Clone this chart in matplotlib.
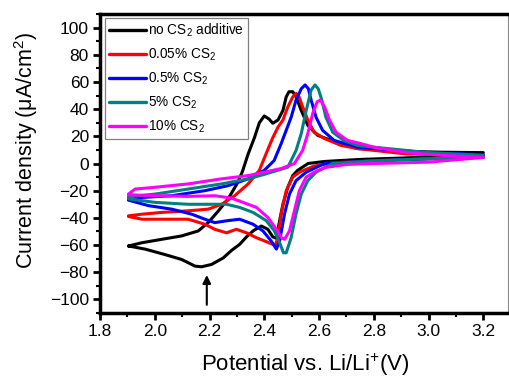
import matplotlib
matplotlib.use("Agg")
import matplotlib.pyplot as plt
from matplotlib.ticker import MultipleLocator, FormatStrFormatter

plt.rcParams['font.family'] = ['Liberation Sans', 'DejaVu Sans']
plt.rcParams['mathtext.fontset'] = 'custom'
plt.rcParams['mathtext.rm'] = 'Liberation Sans'
plt.rcParams['mathtext.it'] = 'Liberation Sans:italic'

# Cyclic voltammograms: anodic sweep (up) then cathodic sweep (dn), potential in V, current in uA/cm2
labels = ["no CS$_2$ additive", "0.05% CS$_2$", "0.5% CS$_2$", "5% CS$_2$", "10% CS$_2$"]
colors = ["#000000", "#ff0000", "#0000ff", "#008080", "#ff00ff"]

black_up_v = [1.904, 1.953, 2.025, 2.098, 2.159, 2.195, 2.232, 2.268, 2.30, 2.32, 2.341, 2.364, 2.382, 2.40, 2.418, 2.431, 2.45, 2.468, 2.48, 2.49, 2.504, 2.516, 2.535, 2.559, 2.595, 2.644, 2.74, 2.90, 3.05, 3.20]
black_up_i = [-60.7, -58.3, -55.8, -53.3, -49.6, -43.5, -35, -26, -15, -6, 7, 19, 30, 35, 32.6, 29.6, 32, 39, 49, 52.8, 52.8, 49, 39, 28, 20.7, 17, 11, 9, 8.3, 8]
black_dn_v = [3.20, 3.10, 2.90, 2.75, 2.62, 2.56, 2.522, 2.504, 2.486, 2.468, 2.456, 2.444, 2.431, 2.413, 2.389, 2.359, 2.335, 2.31, 2.28, 2.25, 2.207, 2.171, 2.147, 2.098, 2.037, 1.965, 1.904]
black_dn_i = [8, 5.5, 4, 3, 1.5, 0, -5, -8.9, -17.5, -30, -42, -55, -54, -48.4, -46, -49.6, -54, -59.5, -64, -69.5, -74.3, -76, -75.5, -70.6, -67, -63, -60.7]

red_up_v = [1.904, 1.953, 2.025, 2.122, 2.195, 2.244, 2.292, 2.341, 2.382, 2.407, 2.431, 2.45, 2.468, 2.486, 2.504, 2.516, 2.527, 2.54, 2.559, 2.582, 2.618, 2.68, 2.74, 2.92, 3.05, 3.20]
red_up_i = [-38.5, -37.3, -36, -34.8, -33.6, -30, -23.7, -15, -5, 7.4, 19, 26.7, 32, 41.7, 49, 51.6, 49, 41.7, 32, 23, 18.5, 13.3, 11, 7, 6.5, 6]
red_dn_v = [3.20, 3.00, 2.80, 2.65, 2.58, 2.528, 2.504, 2.48, 2.462, 2.45, 2.44, 2.425, 2.401, 2.371, 2.335, 2.298, 2.262, 2.219, 2.183, 2.122, 2.037, 1.953, 1.904]
red_dn_i = [6, 3.5, 2, 0.5, -2, -6.4, -10, -20, -37, -54.6, -60, -59, -57, -54.6, -51, -48.4, -51, -48.4, -44.7, -41, -41, -41, -39]

blue_up_v = [1.904, 1.953, 2.062, 2.183, 2.268, 2.341, 2.40, 2.436, 2.462, 2.48, 2.498, 2.516, 2.535, 2.549, 2.561, 2.571, 2.589, 2.613, 2.655, 2.74, 2.80, 3.00, 3.20]
blue_up_i = [-26, -25, -23.7, -20, -16.3, -11.3, -5, 2.2, 14.8, 24.4, 34, 46.7, 55, 57.8, 55, 46.7, 34, 24.4, 17, 12, 11, 8, 6.5]
blue_dn_v = [3.20, 3.00, 2.80, 2.62, 2.553, 2.516, 2.492, 2.474, 2.456, 2.444, 2.425, 2.395, 2.359, 2.31, 2.268, 2.219, 2.183, 2.135, 2.062, 1.977, 1.904]
blue_dn_i = [4.5, 3.5, 2, 0, -6.4, -12.6, -22.5, -37, -57, -63, -57, -49.6, -44.7, -41, -42, -43.5, -41, -37.3, -33.6, -31, -27]

teal_up_v = [1.904, 2.001, 2.122, 2.244, 2.341, 2.40, 2.486, 2.516, 2.535, 2.553, 2.571, 2.585, 2.597, 2.61, 2.625, 2.65, 2.69, 2.74, 2.80, 3.00, 3.20]
teal_up_i = [-24.5, -22.5, -18.8, -15, -11.3, -8, -2.7, 9.6, 22, 39, 54, 57.8, 55, 46.7, 34, 23, 17, 13.3, 12, 8, 6]
teal_dn_v = [3.20, 3.00, 2.80, 2.65, 2.589, 2.559, 2.535, 2.516, 2.498, 2.48, 2.47, 2.456, 2.437, 2.407, 2.359, 2.31, 2.262, 2.232, 2.122, 2.001, 1.904]
teal_dn_i = [4.5, 3.5, 2, 0, -6.4, -12.6, -22.5, -37, -54.6, -65.7, -65.7, -58.3, -49.6, -42, -36, -32.3, -30, -30, -30, -28.6, -26]

mag_up_v = [1.904, 1.928, 2.001, 2.122, 2.244, 2.341, 2.462, 2.51, 2.54, 2.559, 2.577, 2.593, 2.605, 2.62, 2.638, 2.662, 2.704, 2.753, 2.80, 2.92, 3.05, 3.20]
mag_up_i = [-22.5, -18.8, -17.5, -15, -11.3, -8.9, -3.7, 0, 9.6, 22, 37, 45.4, 46.7, 41.7, 32, 23, 17, 14.6, 12, 8, 6, 4.5]
mag_dn_v = [3.20, 3.00, 2.80, 2.70, 2.62, 2.583, 2.553, 2.528, 2.51, 2.492, 2.474, 2.462, 2.444, 2.413, 2.371, 2.322, 2.28, 2.219, 2.122, 2.001, 1.904]
mag_dn_i = [4.5, 1, 0, -0.7, -3, -6.4, -10, -20, -34.8, -49.6, -55.8, -54.6, -48.4, -39.7, -32.3, -28.6, -25.5, -23.7, -24.2, -23.7, -23]

curves = [
    (black_up_v + black_dn_v, black_up_i + black_dn_i),
    (red_up_v + red_dn_v, red_up_i + red_dn_i),
    (blue_up_v + blue_dn_v, blue_up_i + blue_dn_i),
    (teal_up_v + teal_dn_v, teal_up_i + teal_dn_i),
    (mag_up_v + mag_dn_v, mag_up_i + mag_dn_i),
]

fig = plt.figure(figsize=(5.09, 3.81), dpi=100)
ax = fig.add_axes([100 / 509, 1 - 313 / 381, 408 / 509, 299 / 381])

for (v, i), col, lab in zip(curves, colors, labels):
    ax.plot(v, i, color=col, lw=2.2, label=lab, solid_joinstyle='round', solid_capstyle='round')

# Arrow marking the extra reduction feature of the additive-free cell
ax.annotate("", xy=(2.19, -80), xytext=(2.19, -106),
            arrowprops=dict(arrowstyle="-|>", color="black", lw=1.5, mutation_scale=12))

ax.set_xlim(1.8, 3.29)
ax.set_ylim(-110, 110)
ax.xaxis.set_major_locator(MultipleLocator(0.2))
ax.xaxis.set_minor_locator(MultipleLocator(0.1))
ax.yaxis.set_major_locator(MultipleLocator(20))
ax.yaxis.set_minor_locator(MultipleLocator(10))
ax.xaxis.set_major_formatter(FormatStrFormatter('%.1f'))

ax.tick_params(which='major', direction='out', length=5, width=2, labelsize=12.5, pad=3)
ax.tick_params(which='minor', direction='out', length=3, width=1.5)
for side in ['left', 'bottom', 'top']:
    ax.spines[side].set_linewidth(2.5)
ax.spines['right'].set_linewidth(0.8)
ax.spines['right'].set_color('#888888')

ax.set_xlabel("Potential vs. Li/Li$^{+}$(V)", fontsize=16)
ax.xaxis.set_label_coords((305 - 100) / 408, (313 - 365) / 299)
ax.set_ylabel("Current density (\u03bcA/cm$^{2}$)", fontsize=15.5)
ax.yaxis.set_label_coords((26 - 100) / 408, (313 - 150) / 299)
ax.xaxis.label.set_va('center')
ax.yaxis.label.set_va('center')

leg = ax.legend(loc='upper left', bbox_to_anchor=(0.012, 0.987), borderaxespad=0,
                fontsize=9.8, handlelength=2.7, handletextpad=0.15, labelspacing=0.55,
                borderpad=0.3, fancybox=False, framealpha=1, edgecolor='#808080')
leg.get_frame().set_linewidth(0.9)
for line in leg.get_lines():
    line.set_linewidth(2.4)

fig.savefig("out.png", dpi=100)
